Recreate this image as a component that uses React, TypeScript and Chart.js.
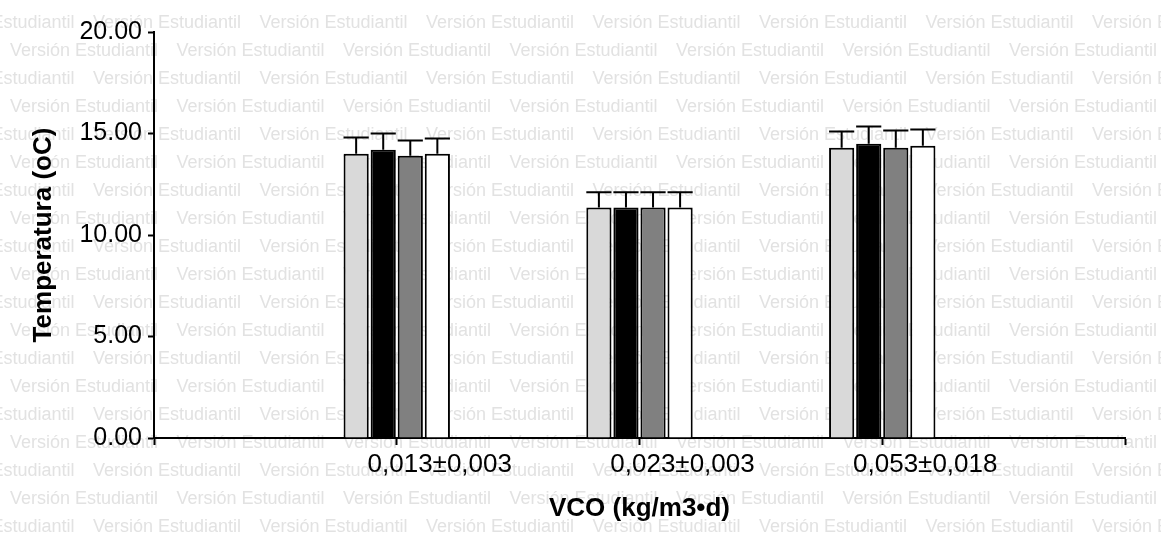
import React, { useEffect, useRef } from "react";
import { Chart, registerables } from "chart.js";

Chart.register(...registerables);

const categories = ["0,013±0,003", "0,023±0,003", "0,053±0,018"];
const seriesNames = ["Serie 1", "Serie 2", "Serie 3", "Serie 4"];
const series1Values = [14.0, 11.35, 14.3];
const series2Values = [14.2, 11.35, 14.5];
const series3Values = [13.9, 11.35, 14.3];
const series4Values = [14.0, 11.35, 14.4];
const series1Errors = [0.8, 0.75, 0.8];
const series2Errors = [0.8, 0.75, 0.85];
const series3Errors = [0.75, 0.75, 0.85];
const series4Errors = [0.75, 0.75, 0.8];
const yMin = 0;
const yMax = 20;
const yStep = 5;
const yTitle = "Temperatura (oC)";
const xTitle = "VCO (kg/m3•d)";
const watermarkText = "Versión Estudiantil";

const seriesColors = ["#d9d9d9", "#000000", "#808080", "#ffffff"];

const pad = (arr: (number | null)[]) => [null, ...arr, null];

const watermarkPlugin = {
  id: "watermark",
  beforeDraw(chart: any) {
    const ctx = chart.ctx as CanvasRenderingContext2D;
    ctx.save();
    ctx.fillStyle = "#e2e2e2";
    ctx.font = '18px "Liberation Sans", Arial, sans-serif';
    ctx.textBaseline = "alphabetic";
    ctx.textAlign = "left";
    const period = 166.5;
    for (let k = 0; k < 20; k++) {
      const y = 28 + 28 * k;
      const start = k % 2 === 0 ? 93 : 10;
      for (let x = start - period * 2; x < chart.width + period; x += period) {
        ctx.fillText(watermarkText, x, y);
      }
    }
    ctx.restore();
  },
};

const errorPlugin = {
  id: "errorBars",
  afterDatasetsDraw(chart: any) {
    const ctx = chart.ctx as CanvasRenderingContext2D;
    const yScale = chart.scales.y;
    ctx.save();
    ctx.strokeStyle = "#000";
    ctx.lineWidth = 2;
    chart.data.datasets.forEach((ds: any, i: number) => {
      const meta = chart.getDatasetMeta(i);
      meta.data.forEach((bar: any, j: number) => {
        const v = ds.data[j];
        const e = ds.errors[j];
        if (v == null || e == null) return;
        const top = yScale.getPixelForValue(v + e);
        const x = bar.x;
        const w = bar.width;
        ctx.beginPath();
        ctx.moveTo(x, bar.y);
        ctx.lineTo(x, top);
        ctx.moveTo(x - w / 2, top);
        ctx.lineTo(x + w / 2, top);
        ctx.stroke();
      });
    });
    ctx.restore();
  },
};

export default function App() {
  const ref = useRef<HTMLCanvasElement>(null);
  useEffect(() => {
    if (!ref.current) return;
    const values = [series1Values, series2Values, series3Values, series4Values];
    const errors = [series1Errors, series2Errors, series3Errors, series4Errors];
    const chart = new Chart(ref.current, {
      type: "bar",
      data: {
        labels: ["", ...categories, ""],
        datasets: values.map((vals, i) => ({
          label: seriesNames[i],
          data: pad(vals),
          errors: pad(errors[i]),
          backgroundColor: seriesColors[i],
          borderColor: "#000",
          borderWidth: 2,
          borderSkipped: "start",
          categoryPercentage: 0.446,
          barPercentage: 0.93,
        })) as any,
      },
      options: {
        responsive: false,
        animation: false,
        events: [],
        layout: { padding: { left: 0, right: 36, top: 32, bottom: 0 } },
        plugins: {
          legend: { display: false },
          tooltip: { enabled: false },
        },
        scales: {
          x: {
            type: "category",
            offset: false,
            grid: {
              offset: false,
              display: true,
              drawOnChartArea: false,
              drawTicks: true,
              tickLength: 7,
              tickColor: "#000",
              tickWidth: 2,
            },
            border: { display: true, color: "#000", width: 2 },
            ticks: {
              autoSkip: false,
              maxRotation: 0,
              minRotation: 0,
              padding: 4,
              labelOffset: 43,
              color: "#000",
              font: { family: '"Liberation Sans", Arial, sans-serif', size: 26 },
            },
            title: {
              display: true,
              text: xTitle,
              color: "#000",
              padding: { top: 0, bottom: 11 },
              font: { family: '"Liberation Sans", Arial, sans-serif', size: 26, weight: "bold" },
            },
            afterFit(scale: any) {
              scale.height = 97;
            },
          },
          y: {
            min: yMin,
            max: yMax,
            grid: {
              display: true,
              drawOnChartArea: false,
              drawTicks: true,
              tickLength: 6,
              tickColor: "#000",
              tickWidth: 2,
            },
            border: { display: true, color: "#000", width: 2 },
            ticks: {
              stepSize: yStep,
              padding: 6,
              color: "#000",
              font: { family: '"Liberation Sans", Arial, sans-serif', size: 25 },
              callback: (v: any) => Number(v).toFixed(2),
            },
            title: {
              display: true,
              text: yTitle,
              color: "#000",
              padding: { top: 28, bottom: 0 },
              font: { family: '"Liberation Sans", Arial, sans-serif', size: 26, weight: "bold" },
            },
            afterFit(scale: any) {
              scale.width = 154;
            },
          },
        },
      },
      plugins: [watermarkPlugin, errorPlugin],
    });
    return () => chart.destroy();
  }, []);
  return (
    <div style={{ position: "fixed", left: 0, top: 0, width: 1161, height: 535, background: "#fff" }}>
      <canvas ref={ref} width={1161} height={535} style={{ display: "block" }} />
    </div>
  );
}
